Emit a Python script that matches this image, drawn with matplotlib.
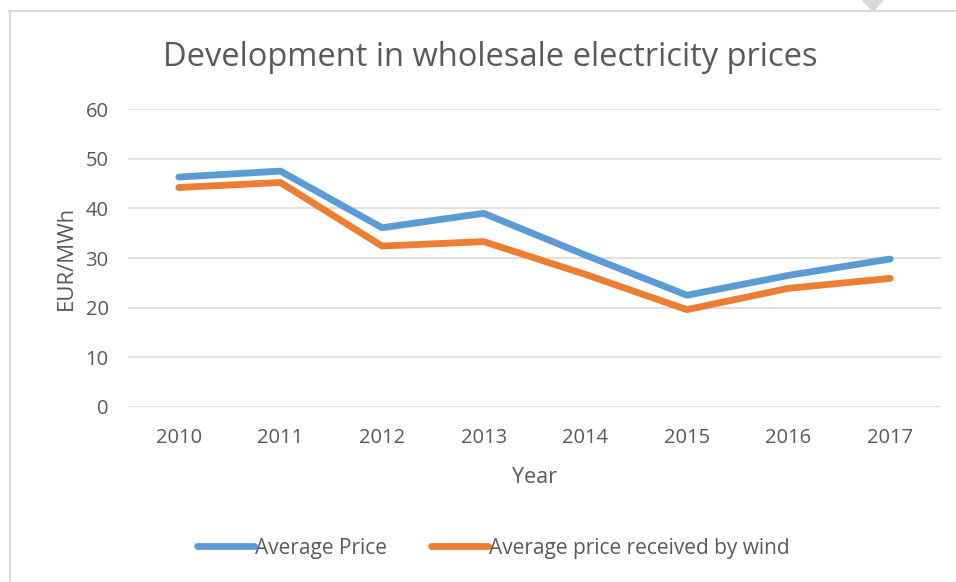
import matplotlib.pyplot as plt
from matplotlib.patches import Polygon
from matplotlib.lines import Line2D

# data
years = ['2010', '2011', '2012', '2013', '2014', '2015', '2016', '2017']
avg_price = [46.3, 47.5, 36.1, 39.0, 30.6, 22.5, 26.5, 29.8]
wind_price = [44.2, 45.2, 32.4, 33.3, 26.7, 19.6, 23.9, 25.9]

plt.rcParams['font.family'] = ['Open Sans', 'DejaVu Sans']
txt = '#595959'

fig = plt.figure(figsize=(9.56, 5.82), dpi=100)
ax = fig.add_axes([0.1339, 0.3007, 0.8504, 0.512])

x = range(len(years))
ax.plot(x, avg_price, color='#5B9BD5', lw=4.9, solid_capstyle='round',
        label='Average Price')
ax.plot(x, wind_price, color='#ED7D31', lw=4.9, solid_capstyle='round',
        label='Average price received by wind')

ax.set_xlim(-0.5, len(years) - 0.5)
ax.set_ylim(0, 60)
ax.set_yticks(range(0, 61, 10))
ax.set_xticks(list(x))
ax.set_xticklabels(years)
ax.grid(axis='y', color='#D9D9D9', lw=1.1)
ax.set_axisbelow(True)
for s in ['top', 'right', 'left', 'bottom']:
    ax.spines[s].set_visible(False)
ax.tick_params(length=0, colors=txt, labelsize=14.5)
ax.tick_params(axis='y', pad=14)
ax.tick_params(axis='x', pad=15)

ax.set_xlabel('Year', color=txt, fontsize=15.5, labelpad=14)
ax.set_ylabel('EUR/MWh', color=txt, fontsize=16, labelpad=6)
fig.text(0.513, 0.902, 'Development in wholesale electricity prices',
         ha='center', va='center', color=txt, fontsize=23.5)

leg = fig.legend(loc='center', bbox_to_anchor=(0.516, 0.058), ncol=2,
                 frameon=False, fontsize=15, handlelength=2.75,
                 handletextpad=0.05, columnspacing=2.1)
for t in leg.get_texts():
    t.set_color(txt)

# outer chart border (right and bottom are cut off in the picture)
fig.add_artist(Line2D([0.009, 1.0], [0.981, 0.981], color='#D9D9D9', lw=1.5,
                      transform=fig.transFigure))
fig.add_artist(Line2D([0.010, 0.010], [0.0, 0.981], color='#D9D9D9', lw=1.5,
                      transform=fig.transFigure))
fig.add_artist(Polygon([[0.902, 1.0], [0.924, 1.0], [0.913, 0.981]],
                       closed=True, color='#D9D9D9', transform=fig.transFigure))

plt.savefig('out.png', dpi=100)
